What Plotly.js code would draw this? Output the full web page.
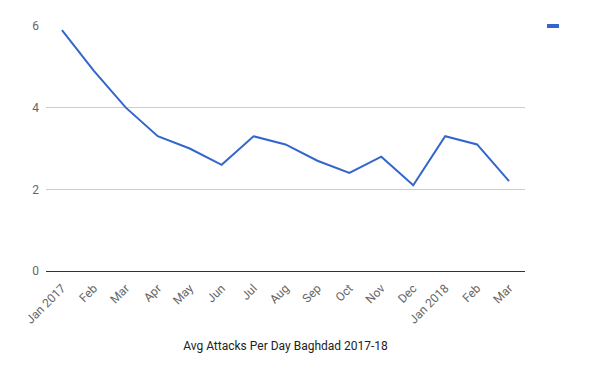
<!DOCTYPE html>
<html><head><meta charset="utf-8">
<script src="https://cdn.plot.ly/plotly-3.0.1.min.js"></script>
<style>html,body{margin:0;padding:0;background:#fff}#chart{width:600px;height:371px}</style>
</head><body><div id="chart"></div>
<script>
const months = ["Jan 2017","Feb","Mar","Apr","May","Jun","Jul","Aug","Sep","Oct","Nov","Dec","Jan 2018","Feb","Mar"];
const avgAttacks = [5.9,4.9,4.0,3.3,3.0,2.6,3.3,3.1,2.7,2.4,2.8,2.1,3.3,3.1,2.2];
const yTicks = [0,2,4,6];
const chartTitle = "Avg Attacks Per Day Baghdad 2017-18";

const idx = months.map((m,i)=>i);
const trace = {
  x: idx, y: avgAttacks, type: 'scatter', mode: 'lines',
  line: {color:'#3366cc', width:2}, name: '', showlegend:false, hoverinfo:'y'
};
const layout = {
  width:600, height:371,
  margin:{l:46, r:75, t:26, b:100},
  paper_bgcolor:'#fff', plot_bgcolor:'#fff',
  font:{family:'Roboto, Arial, sans-serif', size:12, color:'#444'},
  showlegend:false,
  xaxis:{
    range:[-0.5, months.length-0.5],
    tickmode:'array', tickvals:idx, ticktext:months,
    tickangle:-45, showgrid:false, zeroline:false,
    showline:false, ticks:'', ticklabelstandoff:7, tickfont:{size:12, color:'#666'},
    title:{text:chartTitle, font:{size:12, color:'#222'}, standoff:16}
  },
  yaxis:{
    range:[0,6], tickmode:'array', tickvals:yTicks,
    showgrid:true, gridcolor:'#cccccc', gridwidth:1,
    zeroline:true, zerolinecolor:'#333', zerolinewidth:1,
    showline:false, ticks:'', ticklabelstandoff:6,
    tickfont:{size:12, color:'#666'}
  },
  shapes:[{type:'rect', xref:'paper', yref:'paper', x0:(547-46)/479, x1:(559-46)/479, y0:(271-28)/245, y1:(271-24)/245,
    fillcolor:'#3366cc', line:{width:0}}]
};
Plotly.newPlot('chart',[trace],layout,{displayModeBar:false, staticPlot:true});
</script></body></html>
